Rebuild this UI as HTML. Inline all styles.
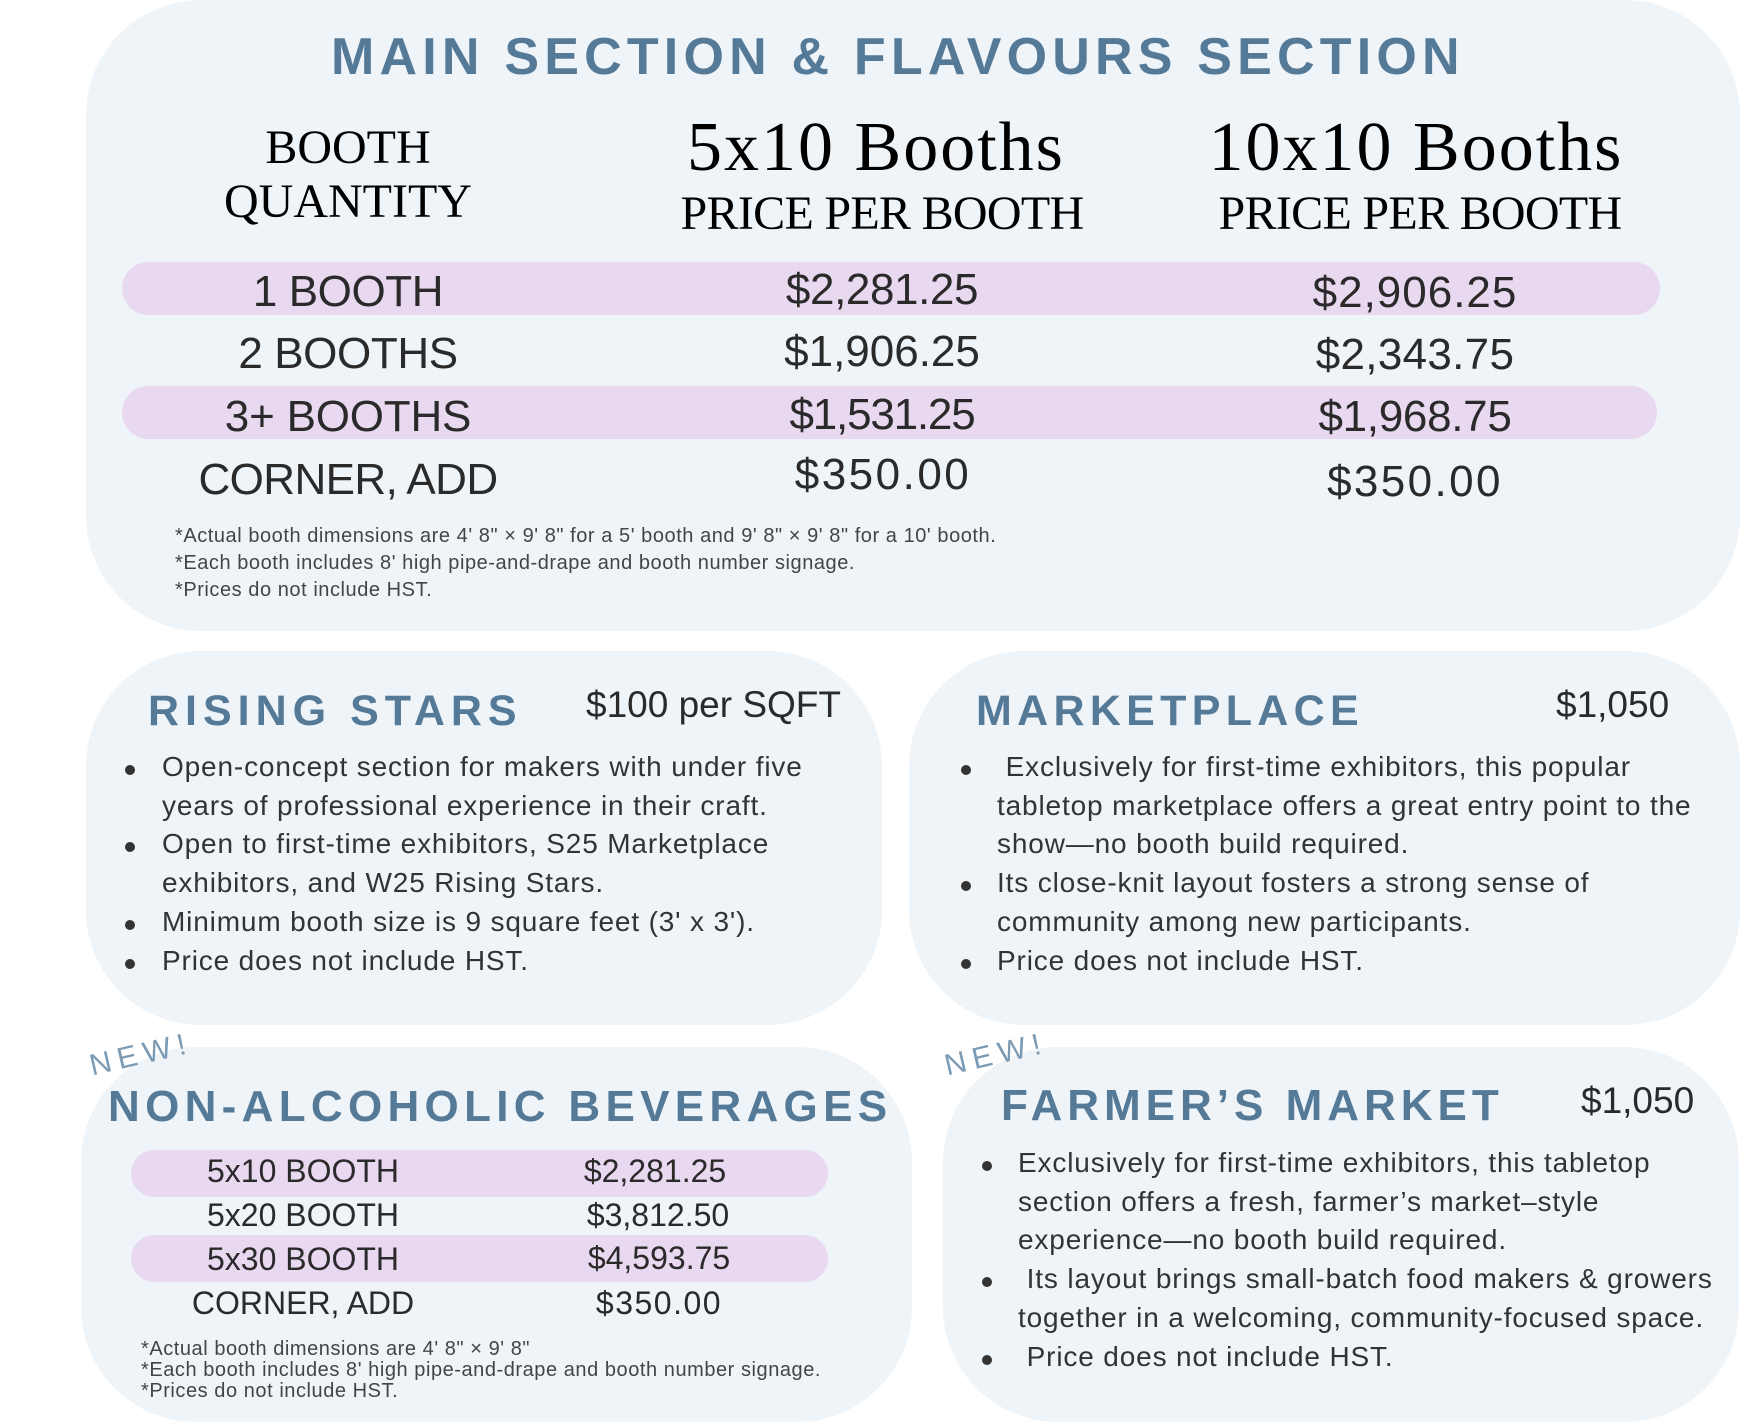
<!DOCTYPE html>
<html><head><meta charset="utf-8">
<style>
html,body{margin:0;padding:0;background:#fff;}
body{width:1753px;height:1425px;position:relative;overflow:hidden;font-family:"Liberation Sans",Arial,sans-serif;}
.a{position:absolute;white-space:nowrap;line-height:1;}
.box{position:absolute;background:#eff4f9;border-radius:115px;}
.pill{position:absolute;background:#e8d8f0;}
.c{text-align:center;width:800px;}
.serif{font-family:"Liberation Serif","Times New Roman",serif;color:#000;}
.h{font-weight:bold;color:#557a98;}
.t{color:#2a2a2a;}
.dot{position:absolute;width:10px;height:10px;border-radius:50%;background:#333;}
.body{position:absolute;white-space:nowrap;font-size:28px;line-height:38.7px;letter-spacing:0.85px;color:#333;}
.fn{font-size:20px;letter-spacing:0.55px;color:#444;}
.new{position:absolute;font-size:30px;line-height:30px;letter-spacing:6.5px;color:#7b9ab4;transform:rotate(-13deg);width:200px;text-align:center;}
</style></head><body>

<!-- boxes -->
<div class="box" style="left:86px;top:0;width:1654px;height:631px;"></div>
<div class="box" style="left:86px;top:651px;width:796px;height:374px;"></div>
<div class="box" style="left:909px;top:651px;width:831px;height:374px;"></div>
<div class="box" style="left:81px;top:1047px;width:831px;height:375px;"></div>
<div class="box" style="left:943px;top:1047px;width:796px;height:375px;"></div>

<!-- main title -->
<div class="a h" style="left:331px;top:31px;font-size:52px;letter-spacing:5.2px;">MAIN SECTION &amp; FLAVOURS SECTION</div>

<!-- headers -->
<div class="a c serif" style="left:-52px;top:124px;font-size:48px;">BOOTH</div>
<div class="a c serif" style="left:-52px;top:178px;font-size:48px;">QUANTITY</div>
<div class="a c serif" style="left:476px;top:113px;font-size:70px;letter-spacing:2px;">5x10 Booths</div>
<div class="a c serif" style="left:1016px;top:113px;font-size:70px;letter-spacing:2px;">10x10 Booths</div>
<div class="a c serif" style="left:482px;top:190px;font-size:48px;letter-spacing:-0.7px;">PRICE PER BOOTH</div>
<div class="a c serif" style="left:1020px;top:190px;font-size:48px;letter-spacing:-0.7px;">PRICE PER BOOTH</div>

<!-- pills -->
<div class="pill" style="left:122px;top:262px;width:1538px;height:53px;border-radius:27px;"></div>
<div class="pill" style="left:122px;top:386px;width:1535px;height:53px;border-radius:27px;"></div>

<!-- rows col1 -->
<div class="a c t" style="left:-52px;top:270px;font-size:44px;letter-spacing:-0.4px;">1 BOOTH</div>
<div class="a c t" style="left:-52px;top:332px;font-size:44px;letter-spacing:-0.4px;">2 BOOTHS</div>
<div class="a c t" style="left:-52px;top:395px;font-size:44px;letter-spacing:-0.2px;">3+ BOOTHS</div>
<div class="a c t" style="left:-52px;top:458px;font-size:44px;letter-spacing:-0.6px;">CORNER, ADD</div>
<!-- col2 -->
<div class="a c t" style="left:482px;top:268px;font-size:44px;letter-spacing:-0.4px;">$2,281.25</div>
<div class="a c t" style="left:482px;top:330px;font-size:44px;letter-spacing:0px;">$1,906.25</div>
<div class="a c t" style="left:482px;top:393px;font-size:44px;letter-spacing:-1.2px;">$1,531.25</div>
<div class="a c t" style="left:483px;top:453px;font-size:44px;letter-spacing:2.5px;">$350.00</div>
<!-- col3 -->
<div class="a c t" style="left:1015px;top:271px;font-size:44px;letter-spacing:1px;">$2,906.25</div>
<div class="a c t" style="left:1015px;top:333px;font-size:44px;letter-spacing:0.3px;">$2,343.75</div>
<div class="a c t" style="left:1015px;top:395px;font-size:44px;letter-spacing:-0.3px;">$1,968.75</div>
<div class="a c t" style="left:1015px;top:460px;font-size:44px;letter-spacing:2.4px;">$350.00</div>

<!-- main footnotes -->
<div class="a fn" style="left:175px;top:526px;">*Actual booth dimensions are 4' 8" × 9' 8" for a 5' booth and 9' 8" × 9' 8" for a 10' booth.</div>
<div class="a fn" style="left:175px;top:553px;">*Each booth includes 8' high pipe-and-drape and booth number signage.</div>
<div class="a fn" style="left:175px;top:580px;">*Prices do not include HST.</div>

<!-- RISING STARS -->
<div class="a h" style="left:148px;top:690px;font-size:43px;letter-spacing:6px;">RISING STARS</div>
<div class="a t" style="left:586px;top:686px;font-size:37px;">$100 per SQFT</div>
<div class="body" style="left:162px;top:748px;">Open-concept section for makers with under five<br>years of professional experience in their craft.<br>Open to first-time exhibitors, S25 Marketplace<br>exhibitors, and W25 Rising Stars.<br>Minimum booth size is 9 square feet (3' x 3').<br>Price does not include HST.</div>
<div class="dot" style="left:125px;top:765px;"></div>
<div class="dot" style="left:125px;top:842px;"></div>
<div class="dot" style="left:125px;top:920px;"></div>
<div class="dot" style="left:125px;top:959px;"></div>

<!-- MARKETPLACE -->
<div class="a h" style="left:976px;top:690px;font-size:43px;letter-spacing:5.3px;">MARKETPLACE</div>
<div class="a t" style="left:1556px;top:686px;font-size:37px;">$1,050</div>
<div class="body" style="left:997px;top:748px;">&nbsp;Exclusively for first-time exhibitors, this popular<br>tabletop marketplace offers a great entry point to the<br>show—no booth build required.<br>Its close-knit layout fosters a strong sense of<br>community among new participants.<br>Price does not include HST.</div>
<div class="dot" style="left:961px;top:765px;"></div>
<div class="dot" style="left:961px;top:881px;"></div>
<div class="dot" style="left:961px;top:959px;"></div>

<!-- NON-ALCOHOLIC -->
<div class="new" style="left:41px;top:1040px;">NEW!</div>
<div class="a h" style="left:108px;top:1085px;font-size:44px;letter-spacing:5.3px;">NON-ALCOHOLIC BEVERAGES</div>
<div class="pill" style="left:131px;top:1150px;width:697px;height:47px;border-radius:24px;"></div>
<div class="pill" style="left:131px;top:1235px;width:697px;height:47px;border-radius:24px;"></div>
<div class="a c t" style="left:-97px;top:1155px;font-size:32px;">5x10 BOOTH</div>
<div class="a c t" style="left:-97px;top:1199px;font-size:32px;">5x20 BOOTH</div>
<div class="a c t" style="left:-97px;top:1243px;font-size:32px;">5x30 BOOTH</div>
<div class="a c t" style="left:-97px;top:1287px;font-size:32px;">CORNER, ADD</div>
<div class="a c t" style="left:255px;top:1155px;font-size:32px;">$2,281.25</div>
<div class="a c t" style="left:258px;top:1199px;font-size:32px;">$3,812.50</div>
<div class="a c t" style="left:259px;top:1242px;font-size:32px;">$4,593.75</div>
<div class="a c t" style="left:259px;top:1287px;font-size:32px;letter-spacing:1.5px;">$350.00</div>
<div class="a fn" style="left:141px;top:1339px;">*Actual booth dimensions are 4' 8" × 9' 8"</div>
<div class="a fn" style="left:141px;top:1360px;">*Each booth includes 8' high pipe-and-drape and booth number signage.</div>
<div class="a fn" style="left:141px;top:1381px;">*Prices do not include HST.</div>

<!-- FARMER'S MARKET -->
<div class="new" style="left:896px;top:1040px;">NEW!</div>
<div class="a h" style="left:1001px;top:1084px;font-size:44px;letter-spacing:5px;">FARMER’S MARKET</div>
<div class="a t" style="left:1581px;top:1082px;font-size:37px;">$1,050</div>
<div class="body" style="left:1018px;top:1144px;">Exclusively for first-time exhibitors, this tabletop<br>section offers a fresh, farmer’s market–style<br>experience—no booth build required.<br>&nbsp;Its layout brings small-batch food makers &amp; growers<br>together in a welcoming, community-focused space.<br>&nbsp;Price does not include HST.</div>
<div class="dot" style="left:982px;top:1161px;"></div>
<div class="dot" style="left:982px;top:1277px;"></div>
<div class="dot" style="left:982px;top:1355px;"></div>

</body></html>
